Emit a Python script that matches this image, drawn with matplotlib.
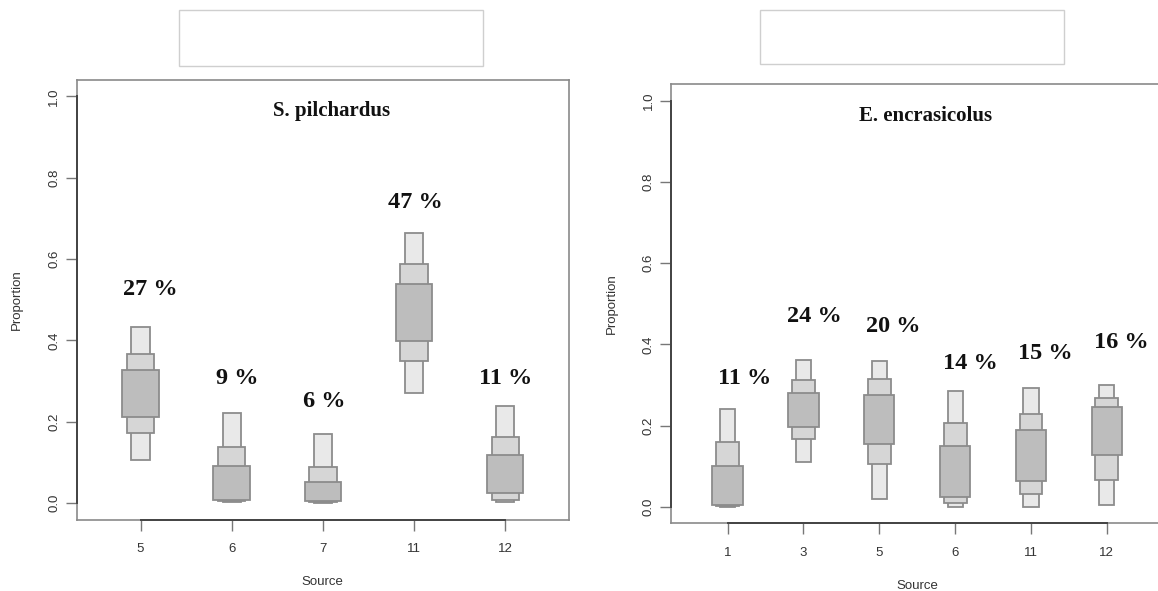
import matplotlib
matplotlib.use('Agg')
import matplotlib.pyplot as plt
from matplotlib.patches import Rectangle
from matplotlib.transforms import blended_transform_factory
import numpy as np

# sources and mean contributions (%) for each consumer
pil_sources = ['5', '6', '7', '11', '12']
pil_means = [27, 9, 6, 47, 11]
# credible intervals: (low, high) for 95, 75 and 50 %
pil_ci95 = [(0.106, 0.433), (0.002, 0.221), (0.000, 0.170), (0.270, 0.665), (0.002, 0.240)]
pil_ci75 = [(0.173, 0.367), (0.005, 0.139), (0.002, 0.088), (0.349, 0.588), (0.008, 0.162)]
pil_ci50 = [(0.212, 0.327), (0.008, 0.092), (0.005, 0.053), (0.398, 0.538), (0.025, 0.119)]

enc_sources = ['1', '3', '5', '6', '11', '12']
enc_means = [11, 24, 20, 14, 15, 16]
enc_ci95 = [(0.000, 0.241), (0.110, 0.362), (0.020, 0.360), (0.000, 0.286), (0.000, 0.294), (0.006, 0.300)]
enc_ci75 = [(0.002, 0.161), (0.167, 0.313), (0.106, 0.314), (0.010, 0.206), (0.032, 0.228), (0.067, 0.269)]
enc_ci50 = [(0.004, 0.100), (0.196, 0.280), (0.155, 0.275), (0.025, 0.151), (0.065, 0.190), (0.128, 0.247)]

# where the percentage labels sit (x offset from the source, height)
pil_lab_dx = [0.11, 0.06, 0.02, 0.02, 0.0]
pil_lab_y = [0.524, 0.306, 0.249, 0.740, 0.306]
enc_lab_dx = [0.22, 0.14, 0.18, 0.20, 0.19, 0.19]
enc_lab_y = [0.315, 0.469, 0.445, 0.352, 0.377, 0.406]

SANS = 'Liberation Sans'
SERIF = 'Liberation Serif'
levels = [(0.2, '#e9e9e9'), (0.3, '#d6d6d6'), (0.4, '#bdbdbd')]


def hdr_panel(ax, sources, ci95, ci75, ci50, means, lab_dx, lab_y, title):
    n = len(sources)
    xs = np.arange(1, n + 1)
    for i, x in enumerate(xs):
        for (w, col), ci in zip(levels, (ci95[i], ci75[i], ci50[i])):
            lo, hi = ci
            ax.add_patch(Rectangle((x - w / 2, lo), w, hi - lo, facecolor=col,
                                   edgecolor='#8c8c8c', linewidth=1.3, zorder=2))
        ax.text(x + lab_dx[i], lab_y[i], '%d %%' % means[i], ha='center', va='center',
                fontsize=17.5, fontweight='bold', family=SERIF, color='#111111')

    span = 0.5 + 0.04 * n
    ax.set_xlim(1 - span, n + span)
    ax.set_ylim(-0.04, 1.04)
    ax.set_xticks(xs)
    ax.set_xticklabels(sources, family=SANS, fontsize=9.5, color='#333333')
    yt = np.arange(0, 1.01, 0.2)
    ax.set_yticks(yt)
    ax.set_yticklabels(['%.1f' % v for v in yt], family=SANS, fontsize=9.5,
                       color='#333333', rotation=90, va='center')
    ax.tick_params(length=8, width=1, color='#777777')
    ax.tick_params(axis='x', pad=9)
    ax.tick_params(axis='y', pad=4)
    for s in ax.spines.values():
        s.set_color('#8a8a8a')
        s.set_linewidth(1.2)

    # axis lines over the tick range, like base R graphics
    ax.plot([xs[0], xs[-1]], [-0.04, -0.04], color='#444444', lw=1.4, clip_on=False, zorder=3)
    ax.plot([1 - span, 1 - span], [0, 1], color='#444444', lw=1.4, clip_on=False, zorder=3)

    ax.set_xlabel('Source', family=SANS, fontsize=9.5, color='#333333', labelpad=15)
    ax.set_ylabel('Proportion', family=SANS, fontsize=9.5, color='#333333', labelpad=18)
    trans = blended_transform_factory(ax.transAxes, ax.transData)
    ax.text(0.517, 0.963, title, transform=trans, ha='center', va='center',
            fontsize=15, fontweight='bold', family=SERIF, color='#111111')


fig = plt.figure(figsize=(11.58, 5.91), dpi=100)
W, H = 1158.0, 591.0

ax1 = fig.add_axes([76.7 / W, 1 - 519.5 / H, 492.3 / W, 439.5 / H])
hdr_panel(ax1, pil_sources, pil_ci95, pil_ci75, pil_ci50, pil_means,
          pil_lab_dx, pil_lab_y, 'S. pilchardus')

ax2 = fig.add_axes([671.4 / W, 1 - 523.3 / H, 491.6 / W, 439.0 / H])
hdr_panel(ax2, enc_sources, enc_ci95, enc_ci75, enc_ci50, enc_means,
          enc_lab_dx, enc_lab_y, 'E. encrasicolus')

# empty boxes above each panel
for x0, x1, y0, y1 in [(178.7, 483.0, 10, 66), (760.2, 1064.2, 10, 64)]:
    fig.add_artist(Rectangle((x0 / W, 1 - y1 / H), (x1 - x0) / W, (y1 - y0) / H,
                             transform=fig.transFigure, facecolor='white',
                             edgecolor='#cfcfcf', linewidth=1))

fig.savefig('out.png', dpi=100)
